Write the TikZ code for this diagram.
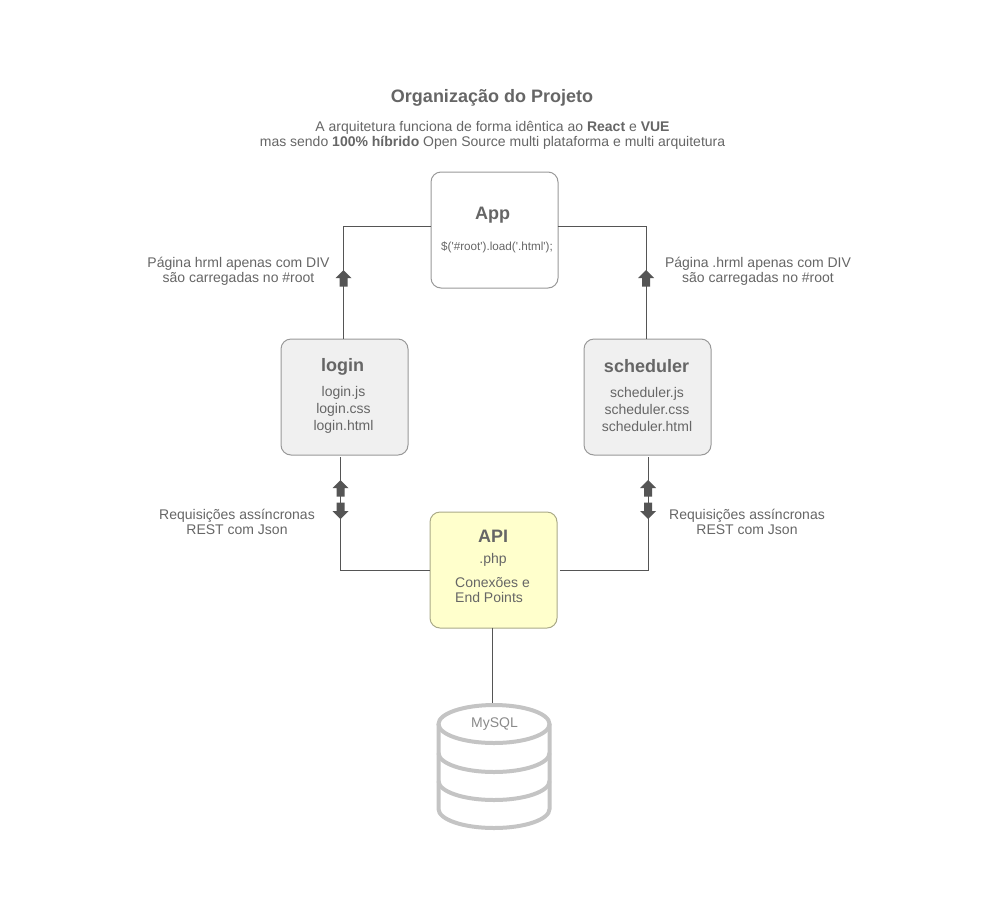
\documentclass[tikz,border=0pt]{standalone}
\usepackage{fontspec}
\setmainfont{Liberation Sans}
\newfontfamily\codefont{Liberation Sans}
\definecolor{ink}{HTML}{666666}
\definecolor{edge}{HTML}{999999}
\definecolor{wire}{HTML}{555555}
\definecolor{dbgray}{HTML}{C4C4C4}
\definecolor{apifill}{HTML}{FFFFCC}
\definecolor{apiedge}{HTML}{AAAA88}
\definecolor{grayfill}{HTML}{F0F0F0}
\newcommand{\fs}[1]{\fontsize{#1}{#1}\selectfont}
\tikzset{
  boxb/.style={draw=edge,line width=1pt,rounded corners=10pt,minimum width=127pt,minimum height=116pt,inner sep=0pt,anchor=north west},
  txt/.style={text=ink,inner sep=0pt,align=center,font=\fs{14}},
  head/.style={text=ink,inner sep=0pt,align=center,font=\fs{18}\bfseries},
  wireline/.style={draw=wire,line width=1pt},
  blockup/.pic={\fill[wire] (0,0)--(8,8)--(4,8)--(4,16.5)--(-4,16.5)--(-4,8)--(-8,8)--cycle;},
  blockdown/.pic={\fill[wire] (0,0)--(8,-8)--(4,-8)--(4,-16.5)--(-4,-16.5)--(-4,-8)--(-8,-8)--cycle;},
}
\begin{document}
\begin{tikzpicture}[x=1pt,y=-1pt]
\useasboundingbox (0,0) rectangle (1000,900);
\fill[white] (0,0) rectangle (1000,900);
% boxes
\node[boxb,fill=white] (app) at (430.5,171.5) {};
\node[boxb,fill=grayfill] (login) at (280.5,338.5) {};
\node[boxb,fill=grayfill] (sched) at (583.5,338.5) {};
\node[boxb,fill=apifill,draw=apiedge] (api) at (429.5,511.5) {};
% connector coordinates
\coordinate (appL) at (430.5,226);
\coordinate (appR) at (557.5,226);
\coordinate (lgT) at (343.5,338.5);
\coordinate (scT) at (646,338.5);
\coordinate (lgB) at (340.5,457);
\coordinate (scB) at (648,457);
\coordinate (apiL) at (429.5,570.5);
\coordinate (apiR) at (560,570.5);
\coordinate (apiB) at (492.5,627.5);
\coordinate (dbT) at (492.5,703);
\draw[wireline] (appL) -| (lgT);
\draw[wireline] (appR) -| (scT);
\draw[wireline] (apiL) -| (lgB);
\draw[wireline] (apiR) -| (scB);
\draw[wireline] (apiB) -- (dbT);
% block arrows
\pic at (343.5,270) {blockup};
\pic at (646,270) {blockup};
\pic at (340.5,480) {blockup};
\pic at (340.5,519) {blockdown};
\pic at (648,480) {blockup};
\pic at (648,519) {blockdown};
% database
\begin{scope}[draw=dbgray,line width=4pt]
\draw[fill=white] (494,724) ellipse [x radius=55.5,y radius=19];
\draw (438.5,724) -- (438.5,809) arc[start angle=180,end angle=0,x radius=55.5,y radius=19] -- (549.5,724);
\draw (438.5,753) arc[start angle=180,end angle=0,x radius=55.5,y radius=19];
\draw (438.5,781) arc[start angle=180,end angle=0,x radius=55.5,y radius=19];
\end{scope}
% texts
\node[head] (title) at (492,97.5) {Organização do Projeto};
\node[txt] (sub) at (492.5,135.5) {A arquitetura funciona de forma idêntica ao \textbf{React} e \textbf{VUE}\\[1pt]mas sendo \textbf{100\% híbrido} Open Source multi plataforma e multi arquitetura};
\node[head] (appt) at (492.5,215) {App};
\node[txt,font=\fs{11.7}\codefont] (appc) at (497,247) {\$('\#root').load('.html');};
\node[head] (lgt) at (342.5,366.5) {login};
\node[txt] (lgf) at (343.5,409.5) {login.js\\[3pt]login.css\\[3pt]login.html};
\node[head] (sct) at (646.5,366.5) {scheduler};
\node[txt] (scf) at (647,409.5) {scheduler.js\\[3pt]scheduler.css\\[3pt]scheduler.html};
\node[head] (apit) at (493,536) {API};
\node[txt] (apip) at (493,560) {.php};
\node[txt,align=left,anchor=west] (apic) at (455,590) {Conexões e\\[1pt]End Points};
\node[txt] (lbl1) at (238.5,271.5) {Página hrml apenas com DIV\\[1pt]são carregadas no \#root};
\node[txt] (lbl2) at (758,271.5) {Página .hrml apenas com DIV\\[1pt]são carregadas no \#root};
\node[txt] (lbl3) at (237,522) {Requisições assíncronas\\[1pt]REST com Json};
\node[txt] (lbl4) at (747,522) {Requisições assíncronas\\[1pt]REST com Json};
\node[txt,text=edge!90!black] (my) at (494.5,724) {MySQL};
\end{tikzpicture}
\end{document}
